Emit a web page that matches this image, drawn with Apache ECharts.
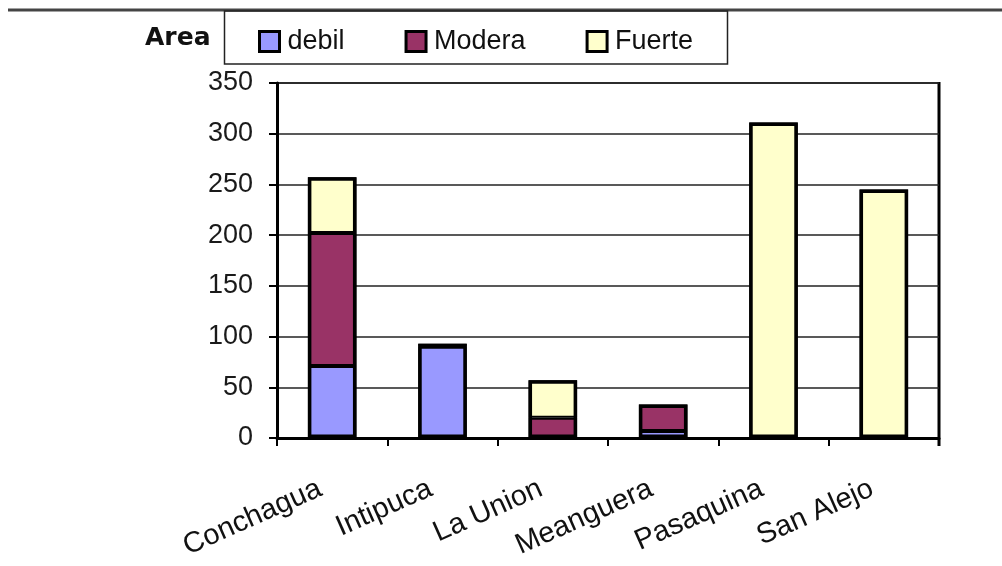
<!DOCTYPE html>
<html>
<head>
<meta charset="utf-8">
<script src="https://cdn.jsdelivr.net/npm/echarts@6/dist/echarts.min.js"></script>
<style>
html,body{margin:0;padding:0;background:#fff;}
#c{width:1002px;height:566px;}
</style>
</head>
<body>
<div id="c"></div>
<script>
var categories = ['Conchagua', 'Intipuca', 'La Union', 'Meanguera', 'Pasaquina', 'San Alejo'];
var debil = [71, 90, null, 7, null, null];
var modera = [131, 3, 20, 26, null, null];
var fuerte = [55, null, 37, null, 311, 245];
var seriesNames = ['debil', 'Modera', 'Fuerte'];
var seriesColors = ['#9999FF', '#993366', '#FFFFCC'];
var yTicks = { min: 0, max: 350, interval: 50 };

var FONT = '"Liberation Sans", Arial, sans-serif';
var chart = echarts.init(document.getElementById('c'), null, { renderer: 'canvas' });

// per-category totals, used only for the outer outline of each stacked column
var totals = categories.map(function (c, i) {
  return (debil[i] || 0) + (modera[i] || 0) + (fuerte[i] || 0);
});

function barSeries(name, data, color) {
  return {
    name: name,
    type: 'bar',
    stack: 'total',
    data: data,
    barWidth: '44%',
    barGap: '-100%',
    itemStyle: { color: color, borderColor: '#000', borderWidth: 2 },
    emphasis: { disabled: true },
    animation: false
  };
}

chart.setOption({
  animation: false,
  backgroundColor: '#fff',
  textStyle: { fontFamily: FONT },
  grid: { left: 277, right: 63, top: 83, bottom: 128, containLabel: false, show: false },
  legend: {
    left: 258, top: 28, padding: 0,
    itemWidth: 20, itemHeight: 20, itemGap: 60,
    icon: 'rect',
    selectedMode: false,
    itemStyle: { borderColor: '#000', borderWidth: 3 },
    textStyle: { fontFamily: FONT, fontSize: 27, color: '#111', padding: [0, 0, 0, 3] },
    data: seriesNames
  },
  graphic: [
    { type: 'line', shape: { x1: 8, y1: 10, x2: 1002, y2: 10 }, style: { stroke: '#444', lineWidth: 3 } },
    { type: 'rect', shape: { x: 224.5, y: 11, width: 503, height: 53 }, style: { fill: 'none', stroke: '#222', lineWidth: 1.5 } },
    { type: 'text', x: 145, y: 38, style: { text: 'Area', font: 'bold 25px "DejaVu Sans", sans-serif', fill: '#111', verticalAlign: 'middle' } },
    { type: 'line', shape: { x1: 277, y1: 83, x2: 939, y2: 83 }, style: { stroke: '#111', lineWidth: 1.5 } },
    { type: 'line', shape: { x1: 939, y1: 82, x2: 939, y2: 446 }, style: { stroke: '#000', lineWidth: 3 } }
  ],
  xAxis: {
    type: 'category',
    data: categories,
    boundaryGap: true,
    axisLine: { show: true, lineStyle: { color: '#000', width: 3 } },
    axisTick: { show: true, alignWithLabel: false, length: 8, lineStyle: { color: '#000', width: 2 } },
    axisLabel: { interval: 0, rotate: 24, margin: 44, fontSize: 29, color: '#111', fontFamily: FONT, padding: [0, 13, 0, 0] },
    splitLine: { show: false }
  },
  yAxis: {
    type: 'value',
    min: yTicks.min, max: yTicks.max, interval: yTicks.interval,
    axisLine: { show: true, lineStyle: { color: '#000', width: 3 } },
    axisTick: { show: true, length: 8, lineStyle: { color: '#000', width: 2 } },
    axisLabel: { fontSize: 27, color: '#1a1a1a', margin: 24, fontFamily: FONT },
    splitLine: { show: true, lineStyle: { color: '#222', width: 1.5 } }
  },
  series: [
    barSeries(seriesNames[0], debil, seriesColors[0]),
    barSeries(seriesNames[1], modera, seriesColors[1]),
    barSeries(seriesNames[2], fuerte, seriesColors[2]),
    {
      name: 'outline',
      type: 'bar',
      stack: 'outline',
      data: totals,
      barWidth: '44%',
      barGap: '-100%',
      silent: true,
      z: 3,
      itemStyle: { color: 'rgba(0,0,0,0)', borderColor: '#000', borderWidth: 3.5 },
      emphasis: { disabled: true },
      animation: false
    }
  ]
});
</script>
</body>
</html>
